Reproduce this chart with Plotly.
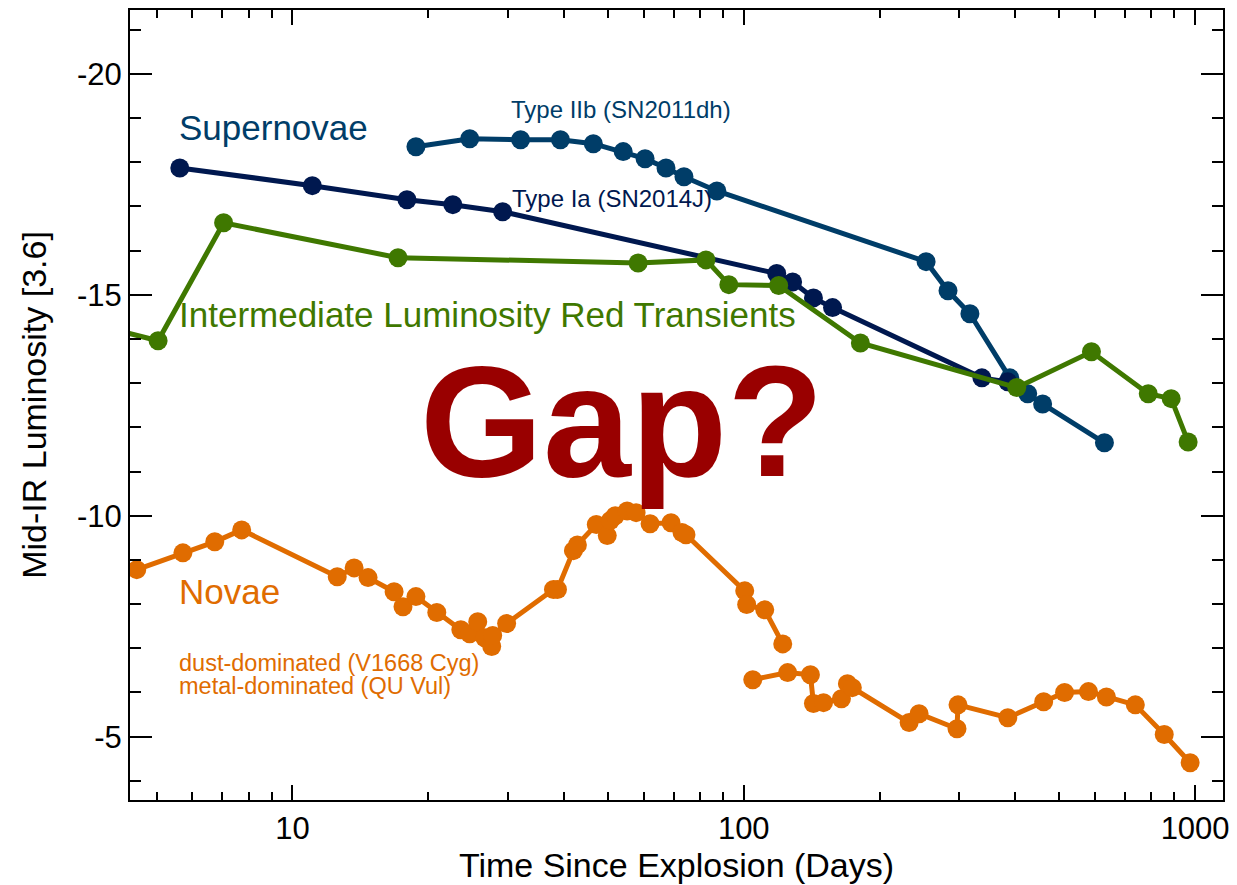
import plotly.graph_objects as go

# ---------------- data ----------------
iib_days = [18.78, 24.71, 32.03, 39.25, 46.42, 54.06, 60.45, 67.26, 73.71, 87.18,
            253.5, 283.5, 317.0, 388.6, 425.7, 459.4, 629.7]
iib_mag = [-18.35, -18.53, -18.51, -18.51, -18.42, -18.24, -18.08, -17.87, -17.67, -17.35,
           -15.75, -15.09, -14.57, -13.12, -12.76, -12.53, -11.65]

ia_days = [5.63, 11.07, 17.94, 22.67, 29.23, 118.3, 128.3, 142.7, 157.3, 337.0, 384.6]
ia_mag = [-17.87, -17.47, -17.15, -17.04, -16.88, -15.48, -15.29, -14.93, -14.71, -13.12, -13.03]

ilrt_days = [4.0, 5.04, 7.04, 17.14, 58.34, 82.45, 92.67, 119.5, 181.3, 402.6, 589.3, 787.4, 885.1, 965.0]
ilrt_mag = [-14.22, -13.96, -16.63, -15.84, -15.72, -15.79, -15.23, -15.21, -13.91, -12.90,
            -13.71, -12.76, -12.65, -11.67]

nova_dust_days = [4.52, 5.72, 6.73, 7.72, 12.57, 13.70, 14.71, 16.80, 17.58, 18.78, 20.89,
                  23.61, 24.71, 25.74, 26.67, 27.64, 27.78, 29.83, 37.88, 38.66, 41.94, 42.80,
                  47.13, 49.84, 50.61, 51.91, 55.16, 57.75, 62.01, 69.01, 72.98, 74.47,
                  100.5, 101.5, 111.3, 122.0]
nova_dust_mag = [-8.78, -9.16, -9.41, -9.68, -8.62, -8.82, -8.60, -8.28, -7.94, -8.17, -7.81,
                 -7.42, -7.33, -7.60, -7.24, -7.04, -7.29, -7.56, -8.33, -8.33, -9.21, -9.34,
                 -9.80, -9.55, -9.89, -10.00, -10.11, -10.07, -9.82, -9.84, -9.62, -9.57,
                 -8.30, -7.99, -7.87, -7.10]

nova_metal_days = [104.7, 125.1, 140.5, 142.7, 150.2, 164.6, 169.7, 174.0, 232.5, 244.6,
                   296.8, 298.3, 384.6, 461.8, 513.8, 580.4, 636.1, 737.2, 854.3, 975.0]
nova_metal_mag = [-6.29, -6.45, -6.40, -5.75, -5.77, -5.86, -6.20, -6.11, -5.32, -5.52,
                  -5.18, -5.72, -5.43, -5.79, -6.00, -6.02, -5.90, -5.72, -5.05, -4.41]

x_tickvals = [10, 100, 1000]
x_ticktext = ["10", "100", "1000"]
x_minor = [5, 6, 7, 8, 9, 20, 30, 40, 50, 60, 70, 80, 90, 200, 300, 400, 500, 600, 700, 800, 900]
y_tickvals = [-20, -15, -10, -5]
y_ticktext = ["-20", "-15", "-10", "-5"]

# ---------------- styling ----------------
C_IIB = "#003d68"
C_IA = "#00184f"
C_ILRT = "#3f7800"
C_NOVA = "#e06c00"
C_GAP = "#990000"
FONT = "Liberation Sans, Arial, Helvetica, sans-serif"

fig = go.Figure()


def add_series(x, y, color):
    fig.add_trace(go.Scatter(
        x=x, y=y, mode="lines+markers",
        line=dict(color=color, width=5),
        marker=dict(color=color, size=19),
        showlegend=False, hoverinfo="skip"))


add_series(iib_days, iib_mag, C_IIB)
add_series(ia_days, ia_mag, C_IA)
add_series(ilrt_days, ilrt_mag, C_ILRT)
add_series(nova_dust_days, nova_dust_mag, C_NOVA)
add_series(nova_metal_days, nova_metal_mag, C_NOVA)

fig.update_layout(
    width=1237, height=885,
    margin=dict(l=130, r=10, t=8, b=85),
    paper_bgcolor="white", plot_bgcolor="white",
    font=dict(family=FONT, color="black"),
)

fig.update_xaxes(
    type="log", range=[0.6402, 3.0618],
    showgrid=False, zeroline=False,
    showline=True, linecolor="black", linewidth=2, mirror="allticks",
    ticks="inside", ticklen=15, tickwidth=2, tickcolor="black",
    tickvals=x_tickvals, ticktext=x_ticktext,
    tickfont=dict(size=31, family=FONT, color="black"),
    minor=dict(tickvals=x_minor, ticks="inside", ticklen=8, tickwidth=2, tickcolor="black", showgrid=False),
    title=dict(text="Time Since Explosion (Days)", font=dict(size=34, family=FONT, color="black"), standoff=3),
)

fig.update_yaxes(
    range=[-3.567, -21.445],
    showgrid=False, zeroline=False,
    showline=True, linecolor="black", linewidth=2, mirror="allticks",
    ticks="inside", ticklen=22, tickwidth=2, tickcolor="black",
    tickvals=y_tickvals, ticktext=y_ticktext,
    tickfont=dict(size=31, family=FONT, color="black"),
    minor=dict(dtick=1, ticks="inside", ticklen=11, tickwidth=2, tickcolor="black", showgrid=False),
    title=dict(text="Mid-IR Luminosity [3.6]", font=dict(size=34, family=FONT, color="black"), standoff=20),
)


def label(text, x, y, size, color, bold=False, xanchor="left"):
    fig.add_annotation(
        text=("<b>%s</b>" % text) if bold else text,
        x=x, y=y, xref="paper", yref="paper",
        xanchor=xanchor, yanchor="middle", showarrow=False,
        font=dict(size=size, color=color, family=FONT))


label("Supernovae", 0.0428, 0.8516, 35, C_IIB)
label("Type IIb (SN2011dh)", 0.3464, 0.8737, 24, C_IIB)
label("Type Ia (SN2014J)", 0.3473, 0.762, 24, C_IA)
label("Intermediate Luminosity Red Transients", 0.0428, 0.6149, 35, C_ILRT)
label("Gap?", 0.45, 0.4798, 158, C_GAP, bold=True, xanchor="center")
label("Novae", 0.0428, 0.2645, 35, C_NOVA)
label("dust-dominated (V1668 Cyg)", 0.0428, 0.174, 23.5, C_NOVA)
label("metal-dominated (QU Vul)", 0.0428, 0.1442, 23.5, C_NOVA)

fig.write_html("out.html")
